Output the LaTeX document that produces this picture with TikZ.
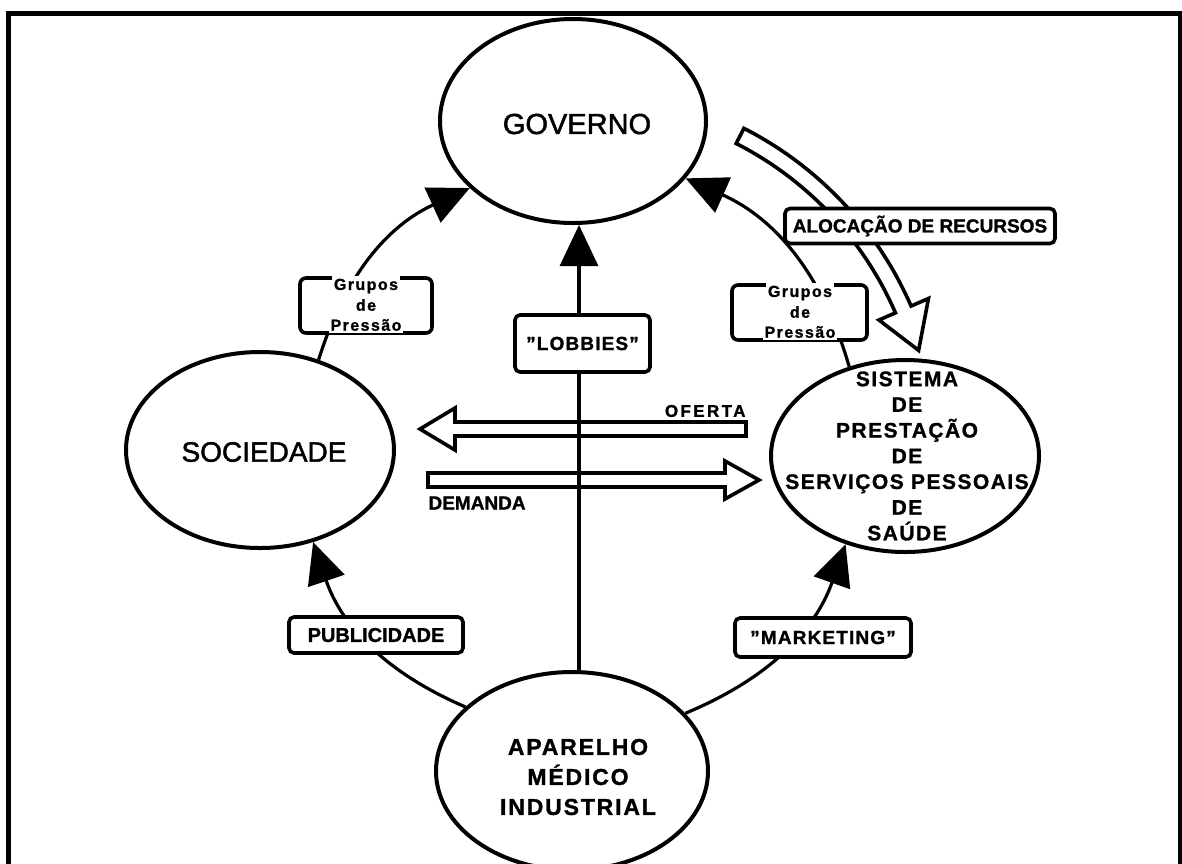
\documentclass[tikz,border=0pt]{standalone}
\usepackage{fontspec}
\setmainfont{Liberation Sans}
\usetikzlibrary{arrows.meta,shapes.geometric}
\newcommand{\fsz}[2]{\fontsize{#1}{#2}\selectfont}
\newcommand{\heavy}{\bfseries\addfontfeature{FakeBold=1.2}}
\newcommand{\dq}{\symbol{34}}
\begin{document}
\begin{tikzpicture}[x=1pt,y=-1pt,
  ell/.style={draw,ellipse,line width=4pt,inner sep=0pt},
  conn/.style={line width=3.2pt},
  tipbig/.style={-{Triangle[length=41pt,width=38pt]}},
  lbox/.style={draw,rectangle,rounded corners=5pt,line width=3.6pt,fill=white,inner sep=0pt},
  gbox/.style={draw,rectangle,rounded corners=6pt,line width=3.6pt,fill=white,inner sep=0pt,minimum width=132pt,minimum height=55pt},
  gtxt/.style={fill=white,inner xsep=1.5pt,inner ysep=2.5pt,font=\heavy\fsz{16}{16}\addfontfeature{LetterSpace=9}},
  hollow/.style={line width=3.6pt,fill=white,line join=miter},
  etext/.style={align=center,font=\heavy\fsz{21}{25.7}\addfontfeature{LetterSpace=7}},
]
\useasboundingbox (0,0) rectangle (1182,863);
\clip (0,0) rectangle (1182,863);
\fill[white] (0,0) rectangle (1182,863);
\draw[line width=5pt] (8,900) -- (8,13) -- (1180,13) -- (1180,900);

% ellipses
\node[ell,minimum width=266pt,minimum height=204pt] (gov) at (573,121) {};
\node[ell,minimum width=268pt,minimum height=196pt] (soc) at (260,450) {};
\node[ell,minimum width=268pt,minimum height=192pt] (sis) at (905,456) {};
\node[ell,minimum width=272pt,minimum height=198pt] (apa) at (572,771) {};

\node[font=\fsz{29}{29}\addfontfeature{FakeBold=1.6}] (govt) at (577,124) {GOVERNO};
\node[font=\fsz{28}{28}\addfontfeature{FakeBold=1.6}] (soct) at (264,452) {SOCIEDADE};
\node[etext] (sist) at (907,456) {SISTEMA\\DE\\PRESTAÇÃO\\DE\\SERVIÇOS PESSOAIS\\DE\\SAÚDE};
\node[align=center,font=\heavy\fsz{23}{30}\addfontfeature{LetterSpace=8}] (apat) at (578,777) {APARELHO\\MÉDICO\\INDUSTRIAL};

% hollow curved arrow: alocacao de recursos
\coordinate (C) at (580,450);
\draw[hollow] ([shift={(-63:344)}]C) arc[start angle=-63,end angle=-23.5,radius=344]
  -- ([shift={(-23.5:326)}]C) -- ([shift={(-16.4:353)}]C) -- ([shift={(-23.5:380)}]C)
  -- ([shift={(-23.5:361)}]C) arc[start angle=-23.5,end angle=-63,radius=361] -- cycle;
\node[lbox,minimum width=270pt,minimum height=35pt,font=\heavy\fsz{19}{19}] (aloc) at (920,226) {ALOCAÇÃO DE RECURSOS};

% oferta / demanda
\draw[hollow] (746,422) -- (455,422) -- (455,408) -- (420,429) -- (455,450) -- (455,436) -- (746,436) -- cycle;
\draw[hollow] (428,473) -- (725,473) -- (725,461) -- (759,480) -- (725,499) -- (725,487) -- (428,487) -- cycle;
\node[anchor=east,font=\heavy\fsz{17}{17}\addfontfeature{LetterSpace=14}] (oft) at (749,411) {OFERTA};
\node[anchor=west,font=\heavy\fsz{19}{19}] (dem) at (425,503) {DEMANDA};

% lobbies
\node[lbox,minimum width=135pt,minimum height=57pt,font=\heavy\fsz{19}{19}\addfontfeature{LetterSpace=6}] (lob) at (582.5,343.5) {\dq LOBBIES\dq};
\coordinate (vx) at (579,0);
\draw[conn] (vx |- apa.north) -- (vx |- lob.south);
\draw[conn,tipbig] (vx |- lob.north) -- (vx |- gov.south);

% grupos de pressao (left)
\draw[conn,tipbig] (soc.57) to[bend left=24] (gov.213);
\node[gbox] (gl) at (366,305.5) {};
\node[gtxt] (gl1) at (366,286) {Grupos};
\node[gtxt,fill=none] (gl2) at (366,305) {de};
\node[gtxt] (gl3) at (366,325) {Pressão};

% grupos de pressao (right)
\draw[conn,tipbig] (sis.122) to[bend right=25] (gov.-27);
\node[gbox,minimum width=135pt] (gr) at (799.5,312.5) {};
\node[gtxt] (gr1) at (800,293) {Grupos};
\node[gtxt,fill=none] (gr2) at (800,312) {de};
\node[gtxt] (gr3) at (800,332) {Pressão};

% publicidade
\draw[conn,tipbig] (apa.149) to[bend left=24] (soc.-60);
\node[lbox,minimum width=174pt,minimum height=36pt,font=\heavy\fsz{20}{20}] (pub) at (376,635) {PUBLICIDADE};

% marketing
\draw[conn,tipbig] (apa.27) to[bend right=24] (sis.236);
\node[lbox,minimum width=176pt,minimum height=39pt,font=\heavy\fsz{19}{19}\addfontfeature{LetterSpace=6}] (mkt) at (823,637.5) {\dq MARKETING\dq};
\end{tikzpicture}
\end{document}
